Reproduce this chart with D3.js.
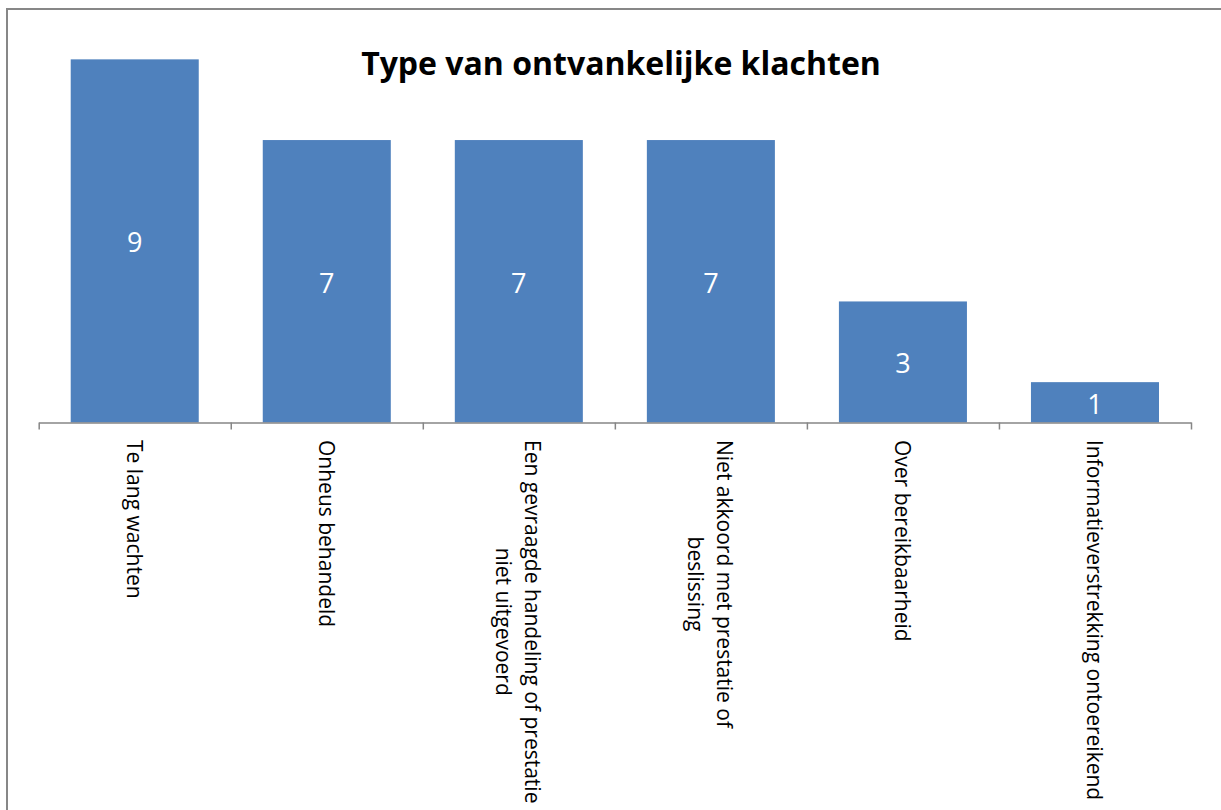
<!DOCTYPE html>
<html>
<head>
<meta charset="utf-8">
<script src="https://cdn.jsdelivr.net/npm/d3@7/dist/d3.min.js"></script>
<style>
  html, body { margin: 0; padding: 0; background: #ffffff; }
  svg { display: block; }
  text { font-family: "Open Sans", "Noto Sans", sans-serif; }
</style>
</head>
<body>
<svg id="chart" width="1221" height="810"></svg>
<script>
// Complaint categories (multi-line labels split with "\n")
const categories = [
  "Te lang wachten",
  "Onheus behandeld",
  "Een gevraagde handeling of prestatie\nniet uitgevoerd",
  "Niet akkoord met prestatie of\nbeslissing",
  "Over bereikbaarheid",
  "Informatieverstrekking ontoereikend"
];
const counts = [9, 7, 7, 7, 3, 1];
const chartTitle = "Type van ontvankelijke klachten";

const W = 1221, H = 810;
const plot = { left: 38.7, right: 1191, top: 19, bottom: 422.5 };
const barColor = "#4F81BD";
const axisColor = "#868686";

const svg = d3.select("#chart");

// outer chart frame
svg.append("rect")
  .attr("x", 7).attr("y", 9)
  .attr("width", W + 10).attr("height", H + 10)
  .attr("fill", "none")
  .attr("stroke", "#878787")
  .attr("stroke-width", 2);

const x = d3.scaleBand()
  .domain(categories)
  .range([plot.left, plot.right])
  .paddingInner(1 / 3)
  .paddingOuter(1 / 6);

const y = d3.scaleLinear()
  .domain([0, 10])
  .range([plot.bottom, plot.top]);

// bars
svg.append("g")
  .selectAll("rect")
  .data(categories)
  .join("rect")
  .attr("x", d => x(d))
  .attr("y", (d, i) => y(counts[i]))
  .attr("width", x.bandwidth())
  .attr("height", (d, i) => y(0) - y(counts[i]))
  .attr("fill", barColor);

// value labels centred inside each bar
svg.append("g")
  .selectAll("text")
  .data(categories)
  .join("text")
  .attr("x", d => x(d) + x.bandwidth() / 2)
  .attr("y", (d, i) => (y(counts[i]) + y(0)) / 2 + 1)
  .attr("text-anchor", "middle")
  .attr("dominant-baseline", "central")
  .attr("fill", "#ffffff")
  .attr("font-size", 27)
  .text((d, i) => counts[i]);

// category axis with tick marks on the category boundaries
const xb = d3.scaleLinear().domain([0, categories.length]).range([plot.left, plot.right]);
const axis = svg.append("g")
  .attr("transform", `translate(0,${plot.bottom})`)
  .call(d3.axisBottom(xb).ticks(categories.length).tickSize(7).tickSizeOuter(0).tickFormat(""));
axis.select(".domain").attr("stroke", axisColor).attr("stroke-width", 1.5);
axis.selectAll(".tick line").attr("stroke", axisColor).attr("stroke-width", 1.5);

// rotated category labels, reading top to bottom
const labelTop = 440;
const lineGap = 29;
const labelSize = 21;
categories.forEach((c, i) => {
  const lines = c.split("\n");
  const cx = x(c) + x.bandwidth() / 2;
  const g = svg.append("g")
    .attr("transform", `translate(${cx},${labelTop}) rotate(90)`);
  const t = g.append("text")
    .attr("font-size", labelSize)
    .attr("fill", "#000000")
    .attr("text-anchor", "middle");
  const n = lines.length;
  lines.forEach((ln, k) => {
    t.append("tspan")
      .attr("x", 0)
      .attr("y", (k - (n - 1) / 2) * lineGap)
      .attr("dominant-baseline", "central")
      .text(ln);
  });
  // shift so the longest line starts at labelTop
  const w = d3.max(t.selectAll("tspan").nodes(), nd => nd.getComputedTextLength());
  t.attr("transform", `translate(${w / 2},0)`);
});

// title
svg.append("text")
  .attr("x", 621)
  .attr("y", 75)
  .attr("text-anchor", "middle")
  .attr("font-size", 32)
  .attr("font-weight", "bold")
  .attr("fill", "#000000")
  .text(chartTitle);
</script>
</body>
</html>
